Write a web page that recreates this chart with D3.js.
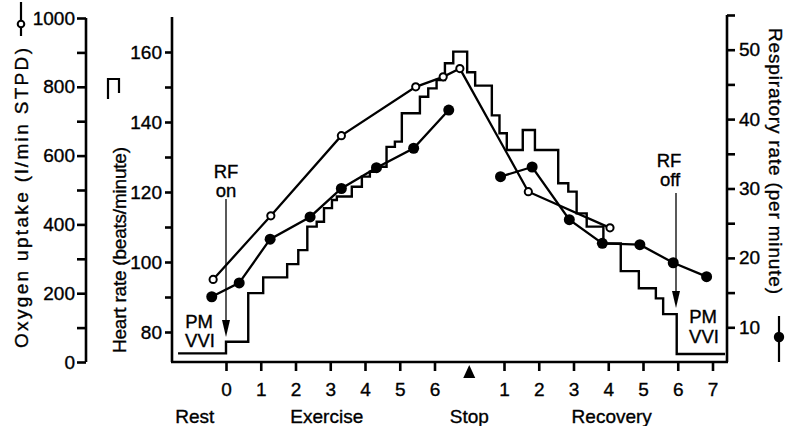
<!DOCTYPE html>
<html>
<head>
<meta charset="utf-8">
<script src="https://cdn.jsdelivr.net/npm/d3@7"></script>
<style>
  body { margin: 0; background: #fff; }
  text { font-family: "Liberation Sans", Arial, sans-serif; fill: #000; stroke: #000; stroke-width: 0.35px; }
</style>
</head>
<body>
<script>
// Heart rate step trace (minutes from start of exercise; stop = 7)
const hrTime = [-1.38, 0, 0.64, 1.07, 1.76, 2.08, 2.34, 2.61, 2.82, 3.05, 3.19, 3.62, 3.91, 4.14, 4.34, 4.62, 4.86, 5.06, 5.58, 5.82, 6.06, 6.30, 6.54, 6.94, 7.17, 7.65, 7.87, 8.08, 8.54, 8.89, 9.56, 9.85, 10.09, 10.38, 10.86, 11.36, 11.88, 12.37, 12.58, 12.97, 14.36];
const hrRate = [73.9, 77.2, 91.1, 95.6, 99.4, 103.4, 110.1, 111.5, 115.4, 117.7, 118.7, 121.5, 124.4, 125.8, 127.2, 132.9, 134.4, 142.5, 147.2, 149.6, 152, 156.8, 160.1, 154.2, 150.4, 141.9, 136.8, 132, 137.7, 132, 122.5, 120.1, 113.9, 110.1, 105.3, 97.4, 92.5, 89.6, 85.1, 73.7, 73.7];

// Oxygen uptake (open circles)
const o2Time = [-0.37, 1.29, 3.32, 5.46, 6.25, 6.73, 8.70, 11.05];
const o2Uptake = [240, 425, 658, 800, 829, 853, 495, 390];

// Respiratory rate (filled circles), exercise and recovery runs
const rrExTime = [-0.41, 0.38, 1.27, 2.42, 3.32, 4.33, 5.40, 6.41];
const rrExRate = [14.4, 16.4, 22.7, 25.9, 30.0, 33.0, 35.8, 41.3];
const rrRecTime = [7.90, 8.81, 9.88, 10.83, 11.91, 12.87, 13.83];
const rrRecRate = [31.7, 33.1, 25.5, 22.1, 21.9, 19.3, 17.3];

// Axis ticks
const xTicks = [0, 1, 2, 3, 4, 5, 6, 8, 9, 10, 11, 12, 13, 14];
const stopTime = 7;
const o2Ticks = d3.range(0, 1001, 100);
const hrTicks = d3.range(80, 161, 10);
const rrTicks = d3.range(10, 56, 5);
const phaseNames = ["Rest", "Exercise", "Stop", "Recovery"];
const phaseTime = [-0.9, 2.9, 7, 11.1];

const W = 787, H = 426;
const axisW = 2.6;

const xScale = d3.scaleLinear().domain([0, 14]).range([226, 712.5]);
const o2Scale = d3.scaleLinear().domain([0, 1000]).range([362, 18]);
const hrScale = d3.scaleLinear().domain([80, 160]).range([332, 52]);
const rrScale = d3.scaleLinear().domain([5, 55]).range([362, 15]);

const svg = d3.select("body").append("svg")
  .attr("width", W)
  .attr("height", H);

function styleAxis(g) {
  g.select(".domain").remove();
  g.selectAll(".tick line").attr("stroke", "#000").attr("stroke-width", axisW);
  g.selectAll(".tick text")
    .attr("font-size", 19)
    .attr("font-family", "Liberation Sans, Arial, sans-serif");
  g.attr("font-family", null).attr("font-size", null);
}

// Oxygen axis
svg.append("g")
  .attr("transform", "translate(86,0)")
  .call(d3.axisLeft(o2Scale).tickValues(o2Ticks).tickSize(9).tickPadding(2)
    .tickFormat(d => (d % 200 ? "" : d)))
  .call(styleAxis);

// Heart-rate axis
svg.append("g")
  .attr("transform", "translate(172,0)")
  .call(d3.axisLeft(hrScale).tickValues(hrTicks).tickSize(7).tickPadding(3)
    .tickFormat(d => (d % 20 ? "" : d)))
  .call(styleAxis);

// Respiratory axis
svg.append("g")
  .attr("transform", "translate(727,0)")
  .call(d3.axisRight(rrScale).tickValues(rrTicks).tickSize(8).tickPadding(4)
    .tickFormat(d => (d % 10 ? "" : d)))
  .call(styleAxis);

// Time axis
svg.append("g")
  .attr("transform", "translate(0,362)")
  .call(d3.axisBottom(xScale).tickValues(xTicks).tickSize(9).tickPadding(12)
    .tickFormat(d => (d < stopTime ? d : d - stopTime)))
  .call(styleAxis);

// Frame lines
const frame = [
  [86, 18, 86, 362],
  [172, 17, 172, 362],
  [727, 15, 727, 362],
  [171, 362, 728, 362]
];
svg.selectAll(".frame")
  .data(frame)
  .enter()
  .append("line")
  .attr("class", "frame")
  .attr("x1", d => d[0]).attr("y1", d => d[1])
  .attr("x2", d => d[2]).attr("y2", d => d[3])
  .attr("stroke", "#000")
  .attr("stroke-width", axisW);

// Stop marker
const sx = xScale(stopTime);
svg.append("path")
  .attr("d", `M${sx},365 L${sx - 6},378 L${sx + 6},378 Z`)
  .attr("fill", "#000");

// Phase labels
svg.selectAll(".phase")
  .data(phaseNames)
  .enter()
  .append("text")
  .attr("class", "phase")
  .attr("x", (d, i) => xScale(phaseTime[i]))
  .attr("y", 423)
  .attr("text-anchor", "middle")
  .attr("font-size", 19)
  .text(d => d);

// Heart rate step line
const hrLine = d3.line()
  .x(i => xScale(hrTime[i]))
  .y(i => hrScale(hrRate[i]))
  .curve(d3.curveStepAfter);
svg.append("path")
  .attr("d", hrLine(d3.range(hrTime.length)))
  .attr("fill", "none")
  .attr("stroke", "#000")
  .attr("stroke-width", 2.4);

// Oxygen line
const o2Line = d3.line()
  .x(i => xScale(o2Time[i]))
  .y(i => o2Scale(o2Uptake[i]));
svg.append("path")
  .attr("d", o2Line(d3.range(o2Time.length)))
  .attr("fill", "none")
  .attr("stroke", "#000")
  .attr("stroke-width", 2.3);

// Respiratory lines
const rrLine = (ts, vs) => d3.line()
  .x(i => xScale(ts[i]))
  .y(i => rrScale(vs[i]))(d3.range(ts.length));
[[rrExTime, rrExRate], [rrRecTime, rrRecRate]].forEach(([ts, vs]) => {
  svg.append("path")
    .attr("d", rrLine(ts, vs))
    .attr("fill", "none")
    .attr("stroke", "#000")
    .attr("stroke-width", 2.3);
});

// Markers
svg.selectAll(".o2dot")
  .data(d3.range(o2Time.length))
  .enter()
  .append("circle")
  .attr("class", "o2dot")
  .attr("cx", i => xScale(o2Time[i]))
  .attr("cy", i => o2Scale(o2Uptake[i]))
  .attr("r", 3.6)
  .attr("fill", "#fff")
  .attr("stroke", "#000")
  .attr("stroke-width", 2);

const rrPts = rrExTime.map((t, i) => [t, rrExRate[i]])
  .concat(rrRecTime.map((t, i) => [t, rrRecRate[i]]));
svg.selectAll(".rrdot")
  .data(rrPts)
  .enter()
  .append("circle")
  .attr("class", "rrdot")
  .attr("cx", d => xScale(d[0]))
  .attr("cy", d => rrScale(d[1]))
  .attr("r", 5.5)
  .attr("fill", "#000");

// Annotations: RF on / RF off arrows
function arrow(x, y1, y2) {
  svg.append("line")
    .attr("x1", x).attr("y1", y1)
    .attr("x2", x).attr("y2", y2 - 14)
    .attr("stroke", "#000")
    .attr("stroke-width", 1.3);
  svg.append("path")
    .attr("d", `M${x},${y2} L${x - 4},${y2 - 17} L${x + 4},${y2 - 17} Z`)
    .attr("fill", "#000");
}
arrow(xScale(0), 199, 337);
arrow(676, 193, 308);

const notes = [
  ["RF", 226, 178], ["on", 226, 197],
  ["RF", 669, 167], ["off", 670, 186],
  ["PM", 199, 328], ["VVI", 200, 347],
  ["PM", 703, 323], ["VVI", 704, 343]
];
svg.selectAll(".note")
  .data(notes)
  .enter()
  .append("text")
  .attr("class", "note")
  .attr("x", d => d[1])
  .attr("y", d => d[2])
  .attr("text-anchor", "middle")
  .attr("font-size", 18.5)
  .text(d => d[0]);

// Axis titles
svg.append("text")
  .attr("transform", "translate(21,198) rotate(-90)")
  .attr("text-anchor", "middle")
  .attr("dy", "0.35em")
  .attr("font-size", 19)
  .attr("textLength", 300)
  .attr("lengthAdjust", "spacing")
  .text("Oxygen uptake (l/min STPD)");
svg.append("line")
  .attr("x1", 21).attr("y1", 2).attr("x2", 21).attr("y2", 36)
  .attr("stroke", "#000").attr("stroke-width", 2.2);
svg.append("circle")
  .attr("cx", 21).attr("cy", 24).attr("r", 3.3)
  .attr("fill", "#fff").attr("stroke", "#000").attr("stroke-width", 2);

svg.append("text")
  .attr("transform", "translate(119,250) rotate(-90)")
  .attr("text-anchor", "middle")
  .attr("dy", "0.35em")
  .attr("font-size", 19)
  .attr("textLength", 206)
  .attr("lengthAdjust", "spacing")
  .text("Heart rate (beats/minute)");
svg.append("path")
  .attr("d", "M108,99 V79 H119 V93")
  .attr("fill", "none")
  .attr("stroke", "#000")
  .attr("stroke-width", 2.2);

svg.append("text")
  .attr("transform", "translate(776,161) rotate(90)")
  .attr("text-anchor", "middle")
  .attr("dy", "0.35em")
  .attr("font-size", 19)
  .attr("textLength", 266)
  .attr("lengthAdjust", "spacing")
  .text("Respiratory rate (per minute)");
svg.append("line")
  .attr("x1", 779).attr("y1", 316).attr("x2", 779).attr("y2", 362)
  .attr("stroke", "#000").attr("stroke-width", 2.2);
svg.append("circle")
  .attr("cx", 779).attr("cy", 337).attr("r", 5.2)
  .attr("fill", "#000");
</script>
</body>
</html>
